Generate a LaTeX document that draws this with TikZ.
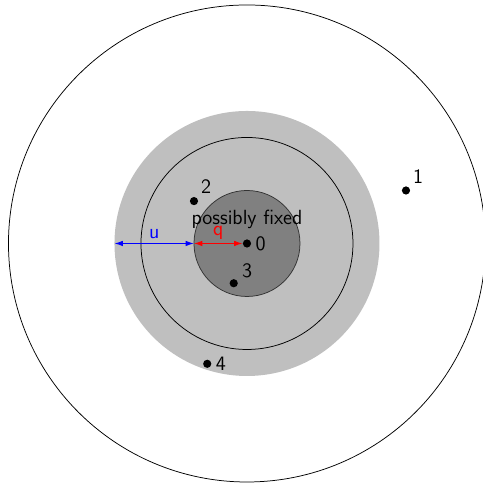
\documentclass[tikz,border=0pt]{standalone}
\usepackage{tikz}
\usetikzlibrary{arrows.meta,positioning}

\begin{document}
\begin{tikzpicture}[
    font=\sffamily,
    pt/.style={circle, fill=black, inner sep=0pt, minimum size=4.4pt},
    arr/.style={{Latex[length=4.5pt,width=3pt]}-{Latex[length=4.5pt,width=3pt]}, semithick},
    lbl/.style={font=\sffamily\fontsize{11}{13}\selectfont, inner sep=2pt}
]
\useasboundingbox (-4.66,-4.538) rectangle (4.453,4.594);
% regions round the origin
\fill[lightgray] (0,0) circle (2.5);
\draw (0,0) circle (2);
\filldraw[fill=gray, draw=black!80] (0,0) circle (1);
\draw (0,0) circle (4.5);

\node[lbl] (fix) at (0,0.45) {possibly fixed};

% points
\node[pt, label={[lbl]right:0}] (p0) at (0,0) {};
\node[pt, label={[lbl]above right:1}] (p1) at (3,1) {};
\node[pt, label={[lbl]above right:2}] (p2) at (-1,0.8) {};
\node[pt, label={[lbl]20:3}] (p3) at (-0.25,-0.75) {};
\node[pt, label={[lbl]right:4}] (p4) at (-0.75,-2.27) {};

\coordinate (uend) at (-2.5,0);
\coordinate (qend) at (-1,0);
\draw[arr, blue] (uend) -- node[lbl, above] {u} (qend);
\draw[arr, red] (qend) -- node[lbl, above] {q} (p0);
\end{tikzpicture}
\end{document}
